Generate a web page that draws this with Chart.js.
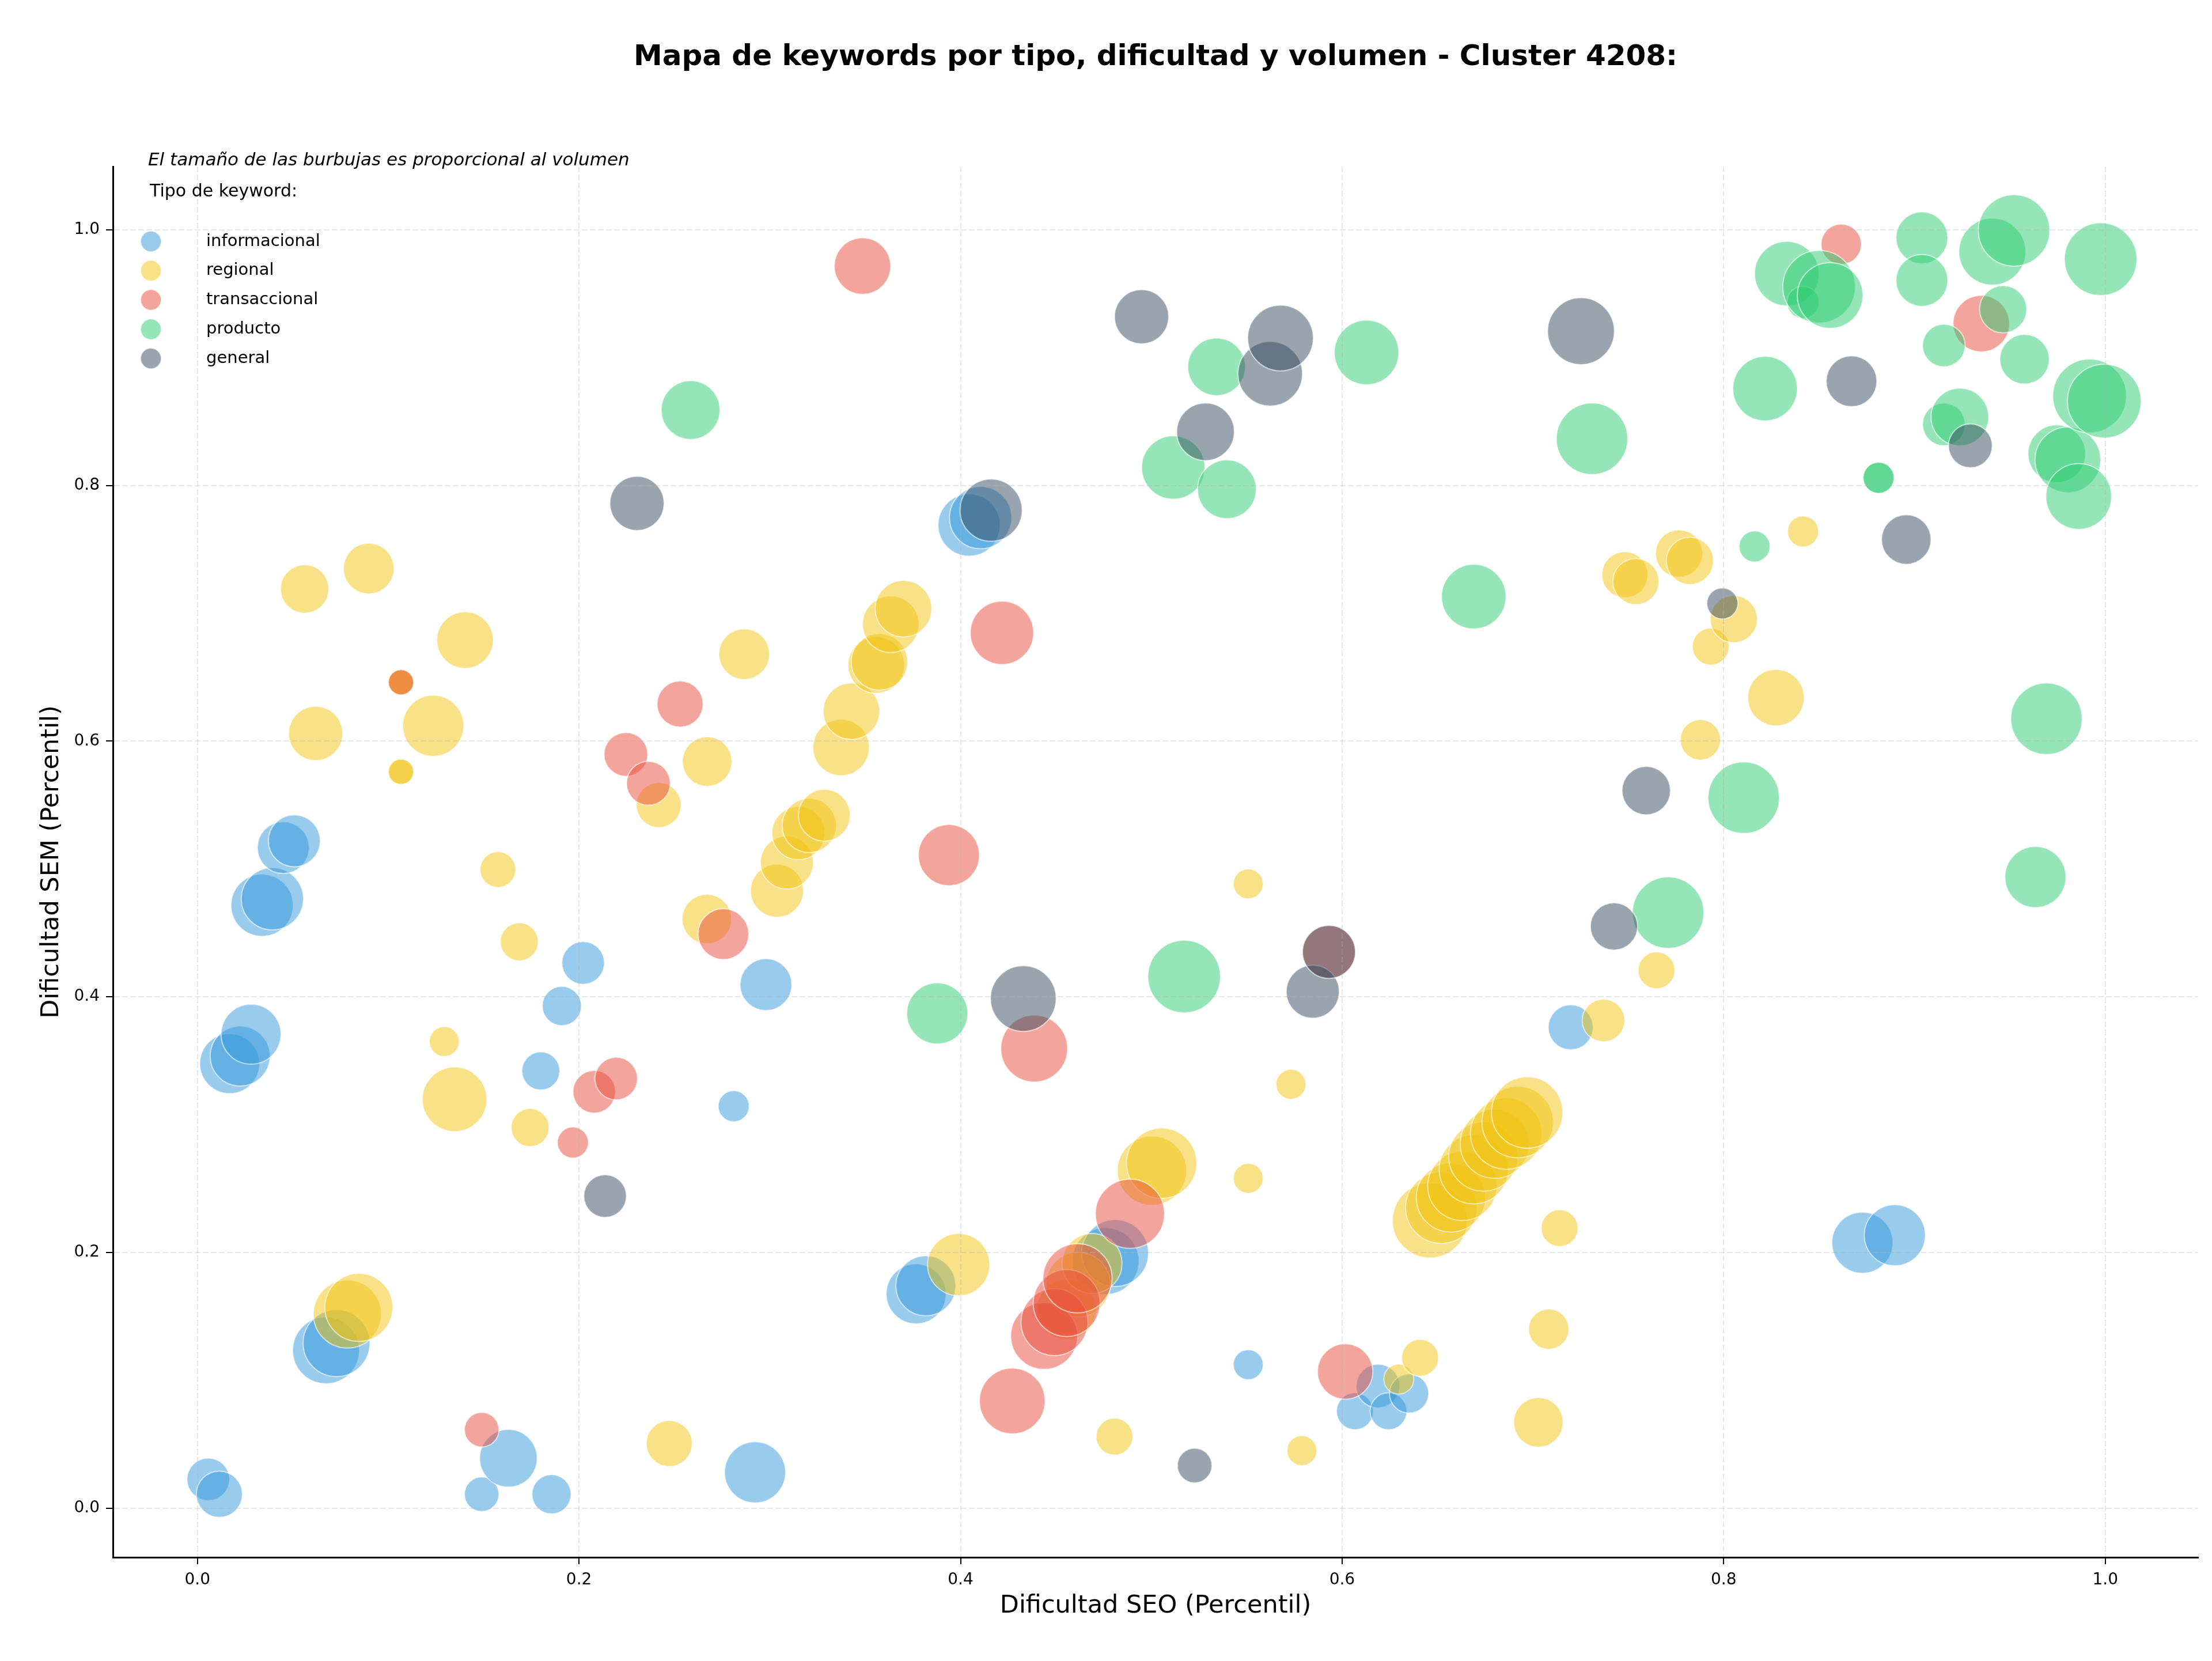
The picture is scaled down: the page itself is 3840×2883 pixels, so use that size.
<!DOCTYPE html>
<html>
<head>
<meta charset="utf-8">
<script src="https://cdn.jsdelivr.net/npm/chart.js@4.4.0/dist/chart.umd.min.js"></script>
<style>
  html, body { margin: 0; padding: 0; background: #fff; }
  #wrap { width: 3840px; height: 2883px; }
</style>
</head>
<body>
<div id="wrap"><canvas id="c" width="3840" height="2883"></canvas></div>
<script>
// ---------- DATA ----------
const chartTitle = 'Mapa de keywords por tipo, dificultad y volumen - Cluster 4208:';
const noteText = 'El tamaño de las burbujas es proporcional al volumen';
const legendTitle = 'Tipo de keyword:';
const xAxisTitle = 'Dificultad SEO (Percentil)';
const yAxisTitle = 'Dificultad SEM (Percentil)';
const categories = ['informacional', 'regional', 'transaccional', 'producto', 'general'];
const xTicks = [0.0, 0.2, 0.4, 0.6, 0.8, 1.0];
const yTicks = [0.0, 0.2, 0.4, 0.6, 0.8, 1.0];

const infoSEO = [0.0057,0.0115,0.0169,0.0224,0.0281,0.0339,0.0393,0.045,0.0508,0.0674,0.0729,0.149,0.163,0.18,0.1856,0.191,0.2022,0.2811,0.2923,0.298,0.3767,0.3818,0.4045,0.4105,0.476,0.481,0.5508,0.6067,0.6188,0.6243,0.6351,0.7198,0.8727,0.8897];
const infoSEM = [0.0225,0.0108,0.3477,0.3536,0.3707,0.4716,0.4766,0.5167,0.522,0.1234,0.129,0.0108,0.039,0.342,0.0108,0.3928,0.4265,0.3144,0.028,0.4095,0.1676,0.1739,0.769,0.7748,0.1932,0.1995,0.1122,0.0757,0.0955,0.0757,0.0896,0.3761,0.2076,0.2135];
const infoVol = [342,400,676,676,676,729,729,506,506,841,841,225,625,272,289,289,342,182,702,506,676,676,729,729,841,841,169,256,361,256,289,380,702,702];

const regSEO = [0.0562,0.062,0.0786,0.0846,0.0898,0.1067,0.1067,0.1067,0.1067,0.1236,0.1294,0.1348,0.1403,0.1575,0.1687,0.1744,0.2418,0.2473,0.267,0.2672,0.2866,0.3038,0.309,0.315,0.3207,0.3286,0.3374,0.3428,0.3558,0.3575,0.3634,0.3701,0.399,0.4556,0.4616,0.4689,0.4807,0.5003,0.5054,0.5508,0.5508,0.5732,0.5789,0.6297,0.6409,0.646,0.652,0.657,0.663,0.669,0.674,0.68,0.686,0.692,0.697,0.7029,0.7083,0.714,0.737,0.7482,0.754,0.7648,0.7766,0.7823,0.7878,0.7932,0.8053,0.8274,0.8416];
const regSEM = [0.719,0.606,0.1518,0.157,0.735,0.646,0.646,0.576,0.576,0.612,0.365,0.3198,0.679,0.4995,0.443,0.2977,0.55,0.0505,0.4608,0.584,0.668,0.483,0.505,0.528,0.534,0.542,0.595,0.6234,0.6595,0.662,0.6914,0.7036,0.1905,0.1554,0.1748,0.1914,0.0559,0.264,0.2698,0.258,0.4883,0.3315,0.045,0.1009,0.1176,0.225,0.235,0.243,0.252,0.265,0.275,0.285,0.293,0.302,0.3095,0.0671,0.14,0.219,0.3815,0.7302,0.7248,0.4207,0.7468,0.741,0.601,0.674,0.6955,0.634,0.764];
const regVol = [441,552,870,870,484,121,121,121,121,702,169,784,600,240,272,272,380,400,462,462,484,529,529,529,552,506,600,600,600,600,600,600,729,676,784,676,256,900,930,169,169,169,169,169,256,1056,961,900,900,900,900,900,961,961,961,462,306,256,342,400,400,256,420,420,306,256,420,600,182];

const transSEO = [0.1067,0.149,0.1968,0.208,0.2195,0.2246,0.2364,0.253,0.2757,0.3486,0.3939,0.4217,0.4271,0.4386,0.4438,0.4492,0.4556,0.4613,0.4888,0.5931,0.6016,0.8616,0.935];
const transSEM = [0.646,0.0613,0.286,0.3257,0.336,0.5896,0.567,0.629,0.449,0.9716,0.5108,0.6847,0.0838,0.3595,0.1347,0.1455,0.1604,0.1797,0.2302,0.4351,0.1068,0.9887,0.9266];
const transVol = [121,225,182,342,342,361,361,400,484,600,702,756,812,841,841,841,841,900,900,529,576,306,600];

const prodSEO = [0.2585,0.3878,0.5115,0.5172,0.5342,0.5396,0.6128,0.669,0.731,0.7709,0.8105,0.8162,0.8217,0.8331,0.8416,0.85,0.8558,0.8812,0.8812,0.9039,0.9039,0.9154,0.9154,0.9238,0.9408,0.9465,0.9522,0.9577,0.9634,0.9692,0.9746,0.9804,0.9861,0.9918,0.9976,0.9995];
const prodSEM = [0.859,0.387,0.814,0.4158,0.8928,0.797,0.904,0.713,0.8365,0.4658,0.5557,0.7523,0.8757,0.9657,0.9432,0.9554,0.9486,0.806,0.806,0.9937,0.9604,0.9095,0.8478,0.8536,0.9829,0.9378,0.9995,0.8987,0.4937,0.6175,0.8248,0.82,0.7914,0.87,0.977,0.866];
const prodVol = [650,702,756,992,625,650,784,784,961,961,961,182,784,784,196,992,812,182,182,506,506,342,342,625,841,420,961,462,702,961,625,812,812,1024,992,1024];

const genSEO = [0.2137,0.2304,0.416,0.4329,0.4949,0.5227,0.5284,0.5623,0.5677,0.5846,0.5931,0.7252,0.7425,0.7594,0.7993,0.867,0.8957,0.9293];
const genSEM = [0.2441,0.786,0.7806,0.3986,0.932,0.0333,0.842,0.8874,0.9153,0.404,0.4351,0.9207,0.455,0.5613,0.7077,0.8815,0.7577,0.831];
const genVol = [342,552,729,812,552,225,625,784,812,529,529,841,420,441,182,484,462,361];

// ---------- STYLE ----------
const baseColors = ['52,152,219', '241,196,15', '231,76,60', '46,204,113', '52,73,94'];
const FONT = "'DejaVu Sans', 'Liberation Sans', sans-serif";
const volToRadius = v => 2 * Math.sqrt(v);

const series = [
  [infoSEO, infoSEM, infoVol],
  [regSEO, regSEM, regVol],
  [transSEO, transSEM, transVol],
  [prodSEO, prodSEM, prodVol],
  [genSEO, genSEM, genVol]
];

const datasets = categories.map((name, i) => {
  const [xs, ys, vs] = series[i];
  return {
    label: name,
    data: xs.map((x, k) => ({ x: x, y: ys[k], r: volToRadius(vs[k]) })),
    backgroundColor: 'rgba(' + baseColors[i] + ',0.5)',
    borderColor: 'rgba(255,255,255,0.6)',
    borderWidth: 2,
    hoverBorderWidth: 2,
    order: categories.length - i
  };
});

const overlayPlugin = {
  id: 'overlay',
  afterDraw(chart) {
    const ctx = chart.ctx;
    const a = chart.chartArea;
    ctx.save();
    ctx.fillStyle = '#000';
    ctx.textAlign = 'left';
    ctx.textBaseline = 'middle';
    ctx.font = 'italic 31px ' + FONT;
    ctx.fillText(noteText, a.left + 61, a.top - 10);
    ctx.font = '30px ' + FONT;
    ctx.fillText(legendTitle, a.left + 64, a.top + 44);
    chart.data.datasets.forEach((ds, i) => {
      const cy = a.top + 130 + i * 50.8;
      ctx.beginPath();
      ctx.arc(a.left + 66, cy, 18, 0, Math.PI * 2);
      ctx.fillStyle = ds.backgroundColor;
      ctx.fill();
      ctx.lineWidth = 2;
      ctx.strokeStyle = ds.borderColor;
      ctx.stroke();
      ctx.fillStyle = '#000';
      ctx.font = '29px ' + FONT;
      ctx.fillText(ds.label, a.left + 162, cy);
    });
    ctx.restore();
  }
};

Chart.defaults.font.family = FONT;
Chart.defaults.color = '#000';

new Chart(document.getElementById('c'), {
  type: 'bubble',
  data: { datasets: datasets },
  plugins: [overlayPlugin],
  options: {
    responsive: false,
    animation: false,
    devicePixelRatio: 1,
    layout: { autoPadding: false, padding: { left: 0, right: 24, top: 0, bottom: 0 } },
    plugins: {
      legend: { display: false },
      tooltip: { enabled: false },
      title: {
        display: true,
        text: chartTitle,
        fullSize: false,
        color: '#000',
        font: { size: 50, weight: 'bold', family: FONT },
        padding: { top: 70, bottom: 159 }
      }
    },
    scales: {
      x: {
        type: 'linear',
        min: -0.0443,
        max: 1.0487,
        afterBuildTicks: s => { s.ticks = xTicks.map(v => ({ value: v })); },
        afterFit: s => { s.height = 180; },
        ticks: { callback: v => Number(v).toFixed(1), font: { size: 28 }, color: '#000', padding: 11, autoSkip: false, maxRotation: 0 },
        grid: { color: 'rgba(176,176,176,0.3)', lineWidth: 2, tickColor: '#000', tickLength: 12, tickWidth: 2, z: 1 },
        border: { color: '#000', width: 3, dash: [10, 4], z: 1 },
        title: { display: true, text: xAxisTitle, color: '#000', font: { size: 43 }, padding: { top: 0, bottom: 69 } }
      },
      y: {
        type: 'linear',
        min: -0.0385,
        max: 1.0495,
        afterBuildTicks: s => { s.ticks = yTicks.map(v => ({ value: v })); },
        afterFit: s => { s.width = 196; },
        ticks: { callback: v => Number(v).toFixed(1), font: { size: 28 }, color: '#000', padding: 11, autoSkip: false },
        grid: { color: 'rgba(176,176,176,0.3)', lineWidth: 2, tickColor: '#000', tickLength: 12, tickWidth: 2, z: 1 },
        border: { color: '#000', width: 3, dash: [10, 4], z: 1 },
        title: { display: true, text: yAxisTitle, color: '#000', font: { size: 43 }, padding: { top: 64, bottom: 0 } }
      }
    }
  }
});
</script>
</body>
</html>
